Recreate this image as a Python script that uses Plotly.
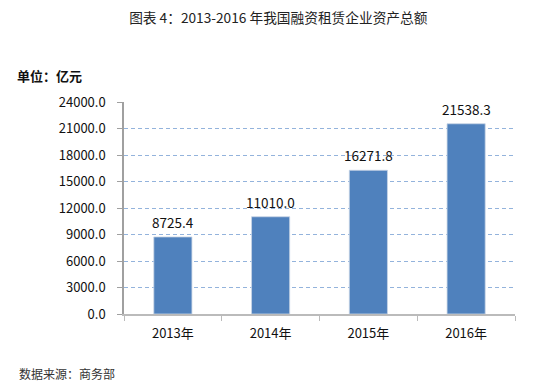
import plotly.graph_objects as go

years = ["2013年", "2014年", "2015年", "2016年"]
assets = [8725.4, 11010.0, 16271.8, 21538.3]
labels = ["8725.4", "11010.0", "16271.8", "21538.3"]
yticks = [0, 3000, 6000, 9000, 12000, 15000, 18000, 21000, 24000]
ytick_text = [f"{v:.1f}" for v in yticks]

font_cjk = "Noto Sans CJK SC, Microsoft YaHei, sans-serif"

fig = go.Figure()
fig.add_trace(go.Bar(
    x=years, y=assets,
    marker=dict(color="#4F81BD", line=dict(color="#c9d6e6", width=0.8)),
    width=0.39,
))
for yr, v, lab in zip(years, assets, labels):
    fig.add_annotation(x=yr, y=v, text=lab, showarrow=False,
                       yanchor="bottom", yshift=3,
                       font=dict(size=13.5, color="#111111", family=font_cjk))

# page body has an 8px margin, so the figure is 530x381 placed at (8, 8)
fig.update_layout(
    width=530, height=381,
    margin=dict(l=116, r=23, t=94, b=75, autoexpand=False),
    paper_bgcolor="white", plot_bgcolor="white",
    showlegend=False,
    font=dict(family=font_cjk, color="#111111", size=12),
    title=dict(text="图表 4：2013-2016 年我国融资租赁企业资产总额",
               x=0.51, xanchor="center", y=0.974, yanchor="middle",
               font=dict(size=13.7, color="#222222", family=font_cjk)),
)
fig.update_yaxes(
    range=[0, 24000], tickvals=yticks, ticktext=ytick_text, automargin=False,
    showgrid=True, gridcolor="#93B3DC", griddash="4px,3px", gridwidth=1,
    showline=True, linecolor="#A0A0A0", linewidth=1.5,
    ticks="outside", ticklen=5, tickcolor="#A0A0A0", ticklabelstandoff=9,
    tickfont=dict(size=13, color="#111111"), zeroline=False,
)
fig.update_xaxes(
    showline=True, linecolor="#BBBBBB", linewidth=2, automargin=False,
    ticks="outside", ticklen=5, tickcolor="#BBBBBB", tickson="boundaries",
    ticklabelstandoff=6,
    tickfont=dict(size=13, color="#111111"),
)
fig.add_annotation(text="<b>单位：亿元</b>", xref="paper", yref="paper",
                   x=-0.279, y=1.127, xanchor="left", yanchor="middle",
                   showarrow=False, font=dict(size=13, color="#111111"))
fig.add_annotation(text="数据来源：商务部", xref="paper", yref="paper",
                   x=-0.274, y=-0.283, xanchor="left", yanchor="middle",
                   showarrow=False, font=dict(size=12, color="#333333"))

fig.write_html("out.html")
